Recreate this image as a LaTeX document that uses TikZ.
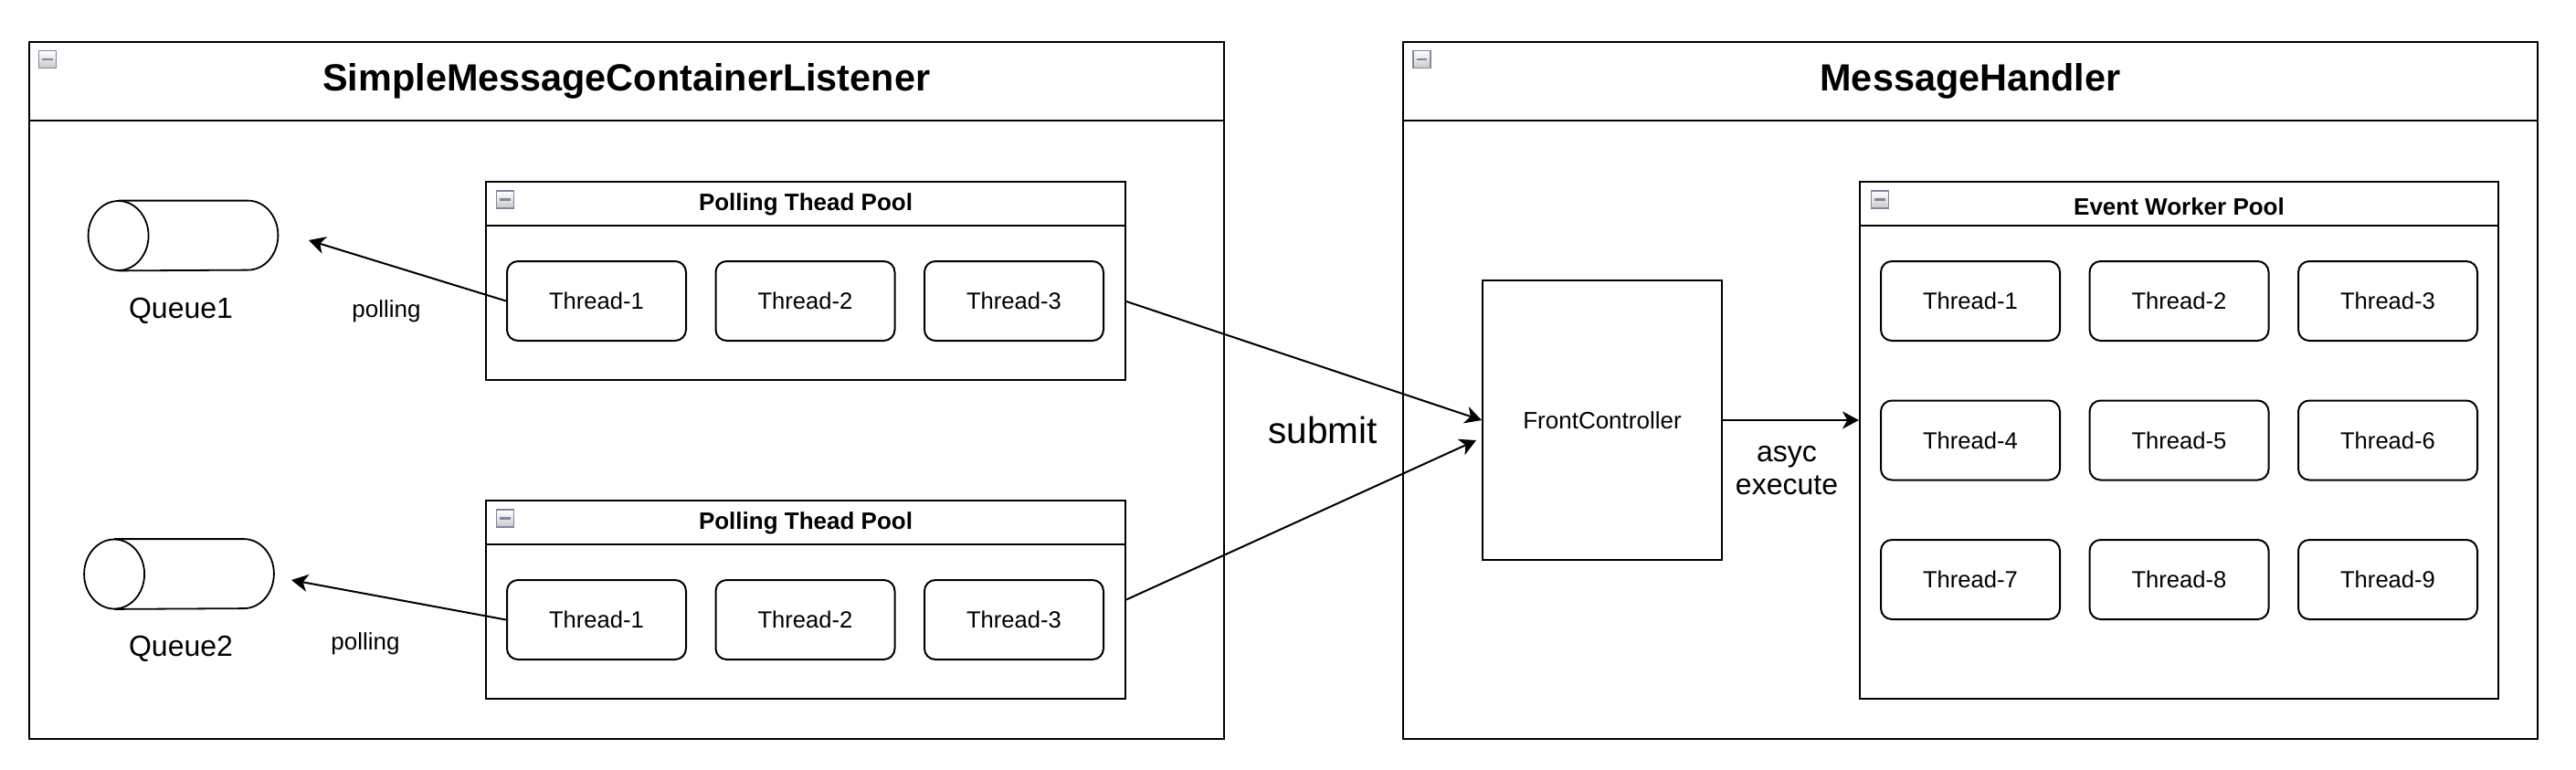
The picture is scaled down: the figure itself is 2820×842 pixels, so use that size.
\documentclass[tikz,border=0pt]{standalone}
\usepackage{fontspec}
\setmainfont{Liberation Sans}
\usetikzlibrary{arrows.meta}
\definecolor{iconborder}{HTML}{7F889E}
\definecolor{iconfill}{HTML}{C8C8C8}
\tikzset{
  frame/.style={draw, line width=1pt, rectangle, inner sep=0pt},
  threadbox/.style={draw, line width=1pt, rounded corners=6pt, minimum width=98pt, minimum height=43.5pt, inner sep=0pt, font=\fontsize{12.8}{15}\selectfont},
  collapse/.style={draw=iconborder, line width=0.8pt, top color=white, bottom color=iconfill, minimum size=9.5pt, inner sep=0pt,
    path picture={\draw[line width=1.3pt] ([xshift=-2.8pt]path picture bounding box.center) -- ([xshift=2.8pt]path picture bounding box.center);}},
  arr/.style={-{Stealth[length=9pt, width=9.5pt, inset=2.6pt]}, line width=1pt},
}
\begin{document}
\begin{tikzpicture}[x=0.5pt, y=-0.5pt]
  \useasboundingbox (0,0) rectangle (2820,842);
  % containers
  \node[frame, minimum width=654.25pt, minimum height=381.75pt] (listener) at (685.75,427.25) {};
  \node[frame, minimum width=621pt, minimum height=381.75pt] (handler) at (2157,427.25) {};
  \draw[line width=1pt] ([yshift=-43.75pt]listener.north west) -- ([yshift=-43.75pt]listener.north east);
  \draw[line width=1pt] ([yshift=-43.75pt]handler.north west) -- ([yshift=-43.75pt]handler.north east);
  \node[font=\bfseries\fontsize{20.7}{24}\selectfont] (ltitle) at (685.75,89) {SimpleMessageContainerListener};
  \node[font=\bfseries\fontsize{20.7}{24}\selectfont] (htitle) at (2157,89) {MessageHandler};
  \node[collapse] (lc) at (52,65) {};
  \node[collapse] (hc) at (1556.5,65) {};
  % polling pools
  \foreach \p/\y in {1/307.5, 2/656.5} {
    \node[frame, minimum width=350pt, minimum height=108.5pt] (pool\p) at (882,\y) {};
    \draw[line width=1pt] ([yshift=-24.5pt]pool\p.north west) -- ([yshift=-24.5pt]pool\p.north east);
    \node[font=\bfseries\fontsize{13}{15}\selectfont] (pt\p) at (882,\y-84) {Polling Thead Pool};
    \node[collapse] (pc\p) at (553,\y-89) {};
    \foreach \i/\x in {1/653, 2/881.5, 3/1110}
      \node[threadbox] (t\p\i) at (\x,\y+22) {Thread-\i};
  }
  % queues
  \foreach \q/\x/\y in {1/200.5/258, 2/196/628.5} {
    \node[minimum width=103.5pt, minimum height=38pt, inner sep=0pt] (queue\q) at (\x,\y) {};
    \draw[line width=0.9pt] ([xshift=16.5pt]queue\q.north west) -- ([xshift=-16.5pt]queue\q.north east)
      arc[start angle=90, end angle=-90, x radius=16.5pt, y radius=19pt] -- ([xshift=16.5pt]queue\q.south west);
    \draw[line width=0.9pt] ([xshift=16.5pt]queue\q.west) ellipse [x radius=16.5pt, y radius=19pt];
    \node[font=\fontsize{16}{19}\selectfont] (ql\q) at (198,\y+82) {Queue\q};
  }
  \coordinate (tip1) at (338,263);
  \coordinate (tip2) at (319,635);
  \draw[arr] (t11.west) -- (tip1);
  \draw[arr] (t21.west) -- (tip2);
  \node[font=\fontsize{13}{15}\selectfont] (poll1) at (423,341) {polling};
  \node[font=\fontsize{13}{15}\selectfont] (poll2) at (400,705) {polling};
  % handler side
  \node[frame, minimum width=131pt, minimum height=153pt, font=\fontsize{13}{15}\selectfont] (fc) at (1754,460) {FrontController};
  \node[frame, minimum width=349.5pt, minimum height=283pt] (ewp) at (2385.5,482) {};
  \draw[line width=1pt] ([yshift=-24.5pt]ewp.north west) -- ([yshift=-24.5pt]ewp.north east);
  \node[font=\bfseries\fontsize{13}{15}\selectfont] (ewt) at (2385.5,226) {Event Worker Pool};
  \node[collapse] (ec) at (2058,218.5) {};
  \foreach \r in {0,1,2}
    \foreach \c in {1,2,3} {
      \pgfmathtruncatemacro\n{3*\r+\c}
      \node[threadbox] (e\n) at (2157+228.5*\c-228.5,329.5+152.5*\r) {Thread-\n};
    }
  \draw[arr] ([yshift=-11.25pt]pool1.east) -- (fc.west);
  \draw[arr] (pool2.east) -- ([xshift=-3pt,yshift=-11pt]fc.west);
  \node[font=\fontsize{20.3}{24}\selectfont] (submit) at (1448,471) {submit};
  \draw[arr] (fc.east) -- (fc.east -| ewp.west);
  \node[font=\fontsize{16}{18}\selectfont, align=center] (asyc) at (1956,515) {asyc\\execute};
\end{tikzpicture}
\end{document}
